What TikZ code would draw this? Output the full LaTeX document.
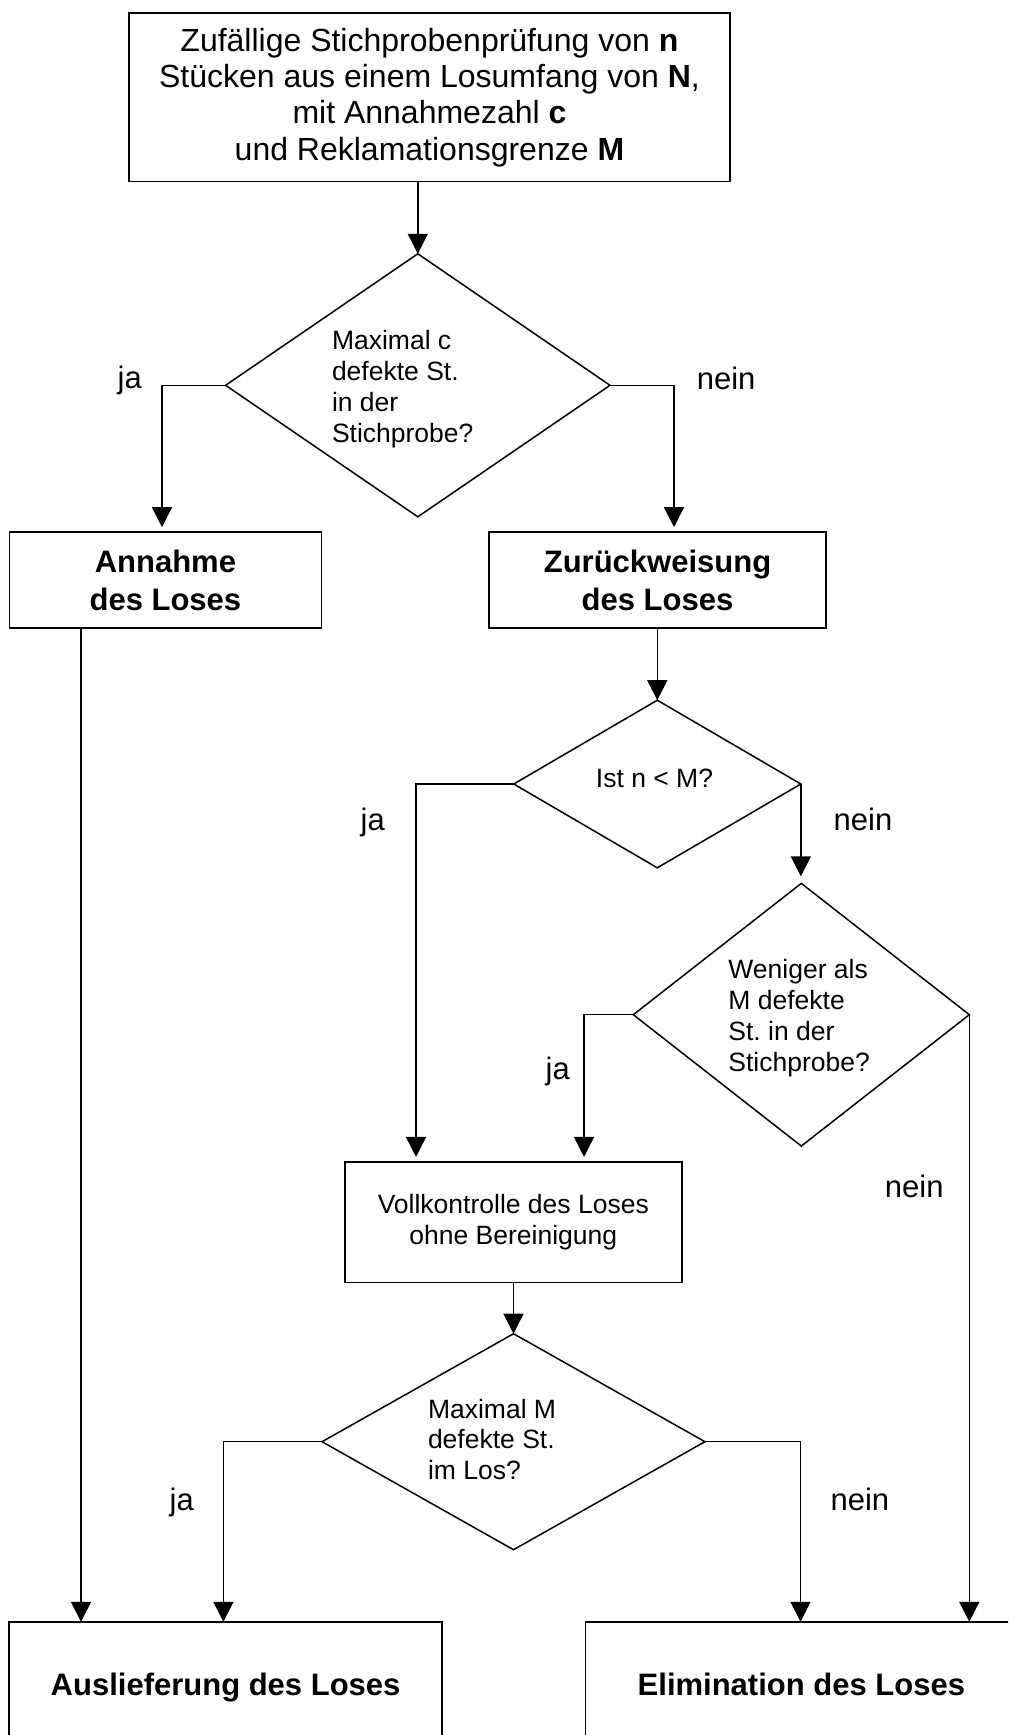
\documentclass[tikz,border=0pt]{standalone}
\usepackage{fontspec}
\setmainfont{Liberation Sans}
\usetikzlibrary{arrows.meta,shapes.geometric,calc}
\frenchspacing
\begin{document}
\begin{tikzpicture}[x=0.5pt,y=-0.5pt,
  every node/.style={inner sep=0pt, outer sep=0pt},
  box/.style={draw, line width=0.75pt, align=center},
  dec/.style={draw, diamond, line width=0.75pt, inner sep=0pt},
  arr/.style={line width=0.75pt, -{Triangle[width=10pt,length=10pt]}},
  lbl/.style={anchor=base, font=\fontsize{15.5}{18}\selectfont},
  small/.style={font=\fontsize{13.25}{15.4}\selectfont\frenchspacing, align=left},
  bigb/.style={font=\fontsize{15.5}{19}\selectfont\bfseries},
  endbox/.style={box, bigb, minimum height=62.1pt, text height=14.6pt, text depth=3.5pt},
]
\useasboundingbox (0,0) rectangle (1008,1735);
\clip (0,0) rectangle (1008,1735);

% nodes
\node[box, minimum width=300.5pt, minimum height=84.3pt, font=\fontsize{16}{18.15}\selectfont] (top) at (429.5,97.3)
  {Zufällige Stichprobenprüfung von \textbf{n}\\Stücken aus einem Losumfang von \textbf{N},\\mit Annahmezahl \textbf{c}\\und Reklamationsgrenze \textbf{M}};

\node[dec, minimum width=192.2pt, minimum height=131.5pt] (d1) at (417.8,385.3) {};
\node[small, anchor=west] (t1) at (332,389) {Maximal c\\defekte St.\\in der\\Stichprobe?};

\node[box, bigb, minimum width=156.15pt, minimum height=48pt] (ann) at (165.4,580) {Annahme\\des Loses};
\node[box, bigb, minimum width=168.5pt, minimum height=48pt] (zur) at (657.5,580) {Zurückweisung\\des Loses};

\node[dec, minimum width=143.55pt, minimum height=83.8pt] (d2) at (657.3,784) {};
\node[small, anchor=base] (t2) at (654.5,787.9) {Ist n < M?};

\node[dec, minimum width=168pt, minimum height=131.35pt] (d3) at (801.3,1014.7) {};
\node[small, anchor=west] (t3) at (728.4,1018) {Weniger als\\M defekte\\St. in der\\Stichprobe?};

\node[box, font=\fontsize{13.25}{15.4}\selectfont, minimum width=168.5pt, minimum height=60.45pt] (voll) at (513.3,1222.2)
  {Vollkontrolle des Loses\\ohne Bereinigung};

\node[dec, minimum width=191.45pt, minimum height=108pt] (d4) at (513.5,1441.7) {};
\node[small, anchor=west] (t4) at (428,1439.4) {Maximal M\\defekte St.\\im Los?};

\node[endbox, minimum width=216.4pt] (aus) at (225.6,1683.9) {Auslieferung des Loses};
\node[endbox, minimum width=215.65pt] (elim) at (801.35,1683.9) {Elimination des Loses};

% helper columns
\coordinate (c81) at (81,0);
\coordinate (c162) at (162,0);
\coordinate (c674) at (674,0);
\coordinate (c416) at (416,0);
\coordinate (c584) at (584,0);
\coordinate (c223) at (223.4,0);
\coordinate (c800) at (800.5,0);

% connectors
\draw[arr] (top.south -| d1.north) -- (d1.north);
\draw[arr, shorten >=2.4pt] (d1.west) -| (ann.north -| c162);
\draw[arr, shorten >=2.4pt] (d1.east) -| (zur.north -| c674);
\draw[arr] (ann.south -| c81) -- (aus.north -| c81);
\draw[arr] (zur.south -| d2.north) -- (d2.north);
\draw[arr, shorten >=2.4pt] (d2.west) -| (voll.north -| c416);
\draw[arr, shorten >=3.5pt] (d2.east) -- (d2.east |- d3.north);
\draw[arr, shorten >=2.4pt] (d3.west) -| (voll.north -| c584);
\draw[arr] (d3.east) -- (d3.east |- elim.north);
\draw[arr] (voll.south -| d4.north) -- (d4.north);
\draw[arr] (d4.west) -| (aus.north -| c223);
\draw[arr] (d4.east) -| (elim.north -| c800);

% labels
\node[lbl] (ja1) at (129.7,388.4) {ja};
\node[lbl] (nein1) at (726.1,389) {nein};
\node[lbl] (ja2) at (372.7,830.4) {ja};
\node[lbl] (nein2) at (863,830.4) {nein};
\node[lbl] (ja3) at (557.7,1079.4) {ja};
\node[lbl] (nein3) at (914.2,1197.5) {nein};
\node[lbl] (ja4) at (181.8,1510) {ja};
\node[lbl] (nein4) at (859.9,1510) {nein};
\end{tikzpicture}
\end{document}
